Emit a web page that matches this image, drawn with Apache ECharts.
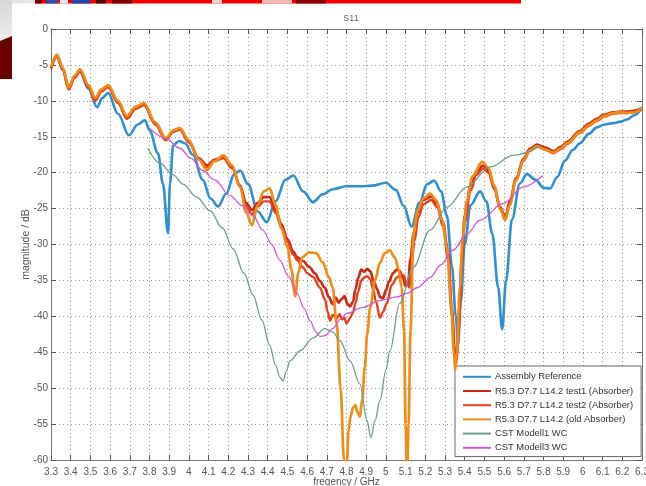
<!DOCTYPE html>
<html>
<head>
<meta charset="utf-8">
<script src="https://cdn.jsdelivr.net/npm/echarts@6/dist/echarts.min.js"></script>
<style>
  html, body { margin: 0; padding: 0; background: #fff; }
  #chart { width: 646px; height: 486px; }
</style>
</head>
<body>
<div id="chart"></div>
<script>
// S11 magnitude (dB) versus frequency (GHz), pairs of [frequency, magnitude]
const assemblyReference = [
  [3.30,-5.4],[3.33,-3.6],[3.36,-5.5],[3.39,-8.1],[3.42,-6.7],[3.447,-5.9],[3.49,-8.3],[3.534,-10.9],
  [3.56,-9.6],[3.59,-8.9],[3.64,-11.8],[3.696,-14.8],[3.74,-13.3],[3.777,-12.7],[3.80,-14.1],[3.843,-17.3],
  [3.868,-21.5],[3.894,-28.4],[3.904,-21.5],[3.92,-16.2],[3.95,-15.6],[3.98,-15.9],[4.02,-17.5],[4.07,-21.0],
  [4.11,-23.6],[4.148,-24.7],[4.19,-22.9],[4.23,-20.2],[4.26,-19.7],[4.30,-21.6],[4.35,-25.4],[4.395,-26.9],
  [4.44,-24.0],[4.49,-21.0],[4.53,-20.4],[4.58,-22.6],[4.63,-24.1],[4.68,-23.0],[4.73,-22.3],[4.80,-21.9],
  [4.87,-21.9],[4.93,-21.8],[5.00,-21.4],[5.05,-22.4],[5.09,-24.6],[5.13,-27.5],[5.17,-24.2],[5.21,-21.6],
  [5.245,-21.1],[5.28,-22.6],[5.31,-26.0],[5.335,-33.0],[5.355,-40.0],[5.366,-44.0],[5.38,-38.0],[5.40,-30.0],
  [5.43,-24.5],[5.478,-22.6],[5.51,-24.0],[5.54,-28.5],[5.57,-36.0],[5.59,-41.8],[5.61,-35.0],[5.64,-26.5],
  [5.68,-21.5],[5.716,-20.2],[5.76,-21.0],[5.80,-22.1],[5.833,-22.2],[5.87,-20.6],[5.909,-18.3],[5.95,-16.8],
  [5.985,-15.9],[6.03,-14.6],[6.07,-13.7],[6.11,-13.3],[6.153,-13.1],[6.19,-12.9],[6.224,-12.6],[6.26,-12.0],
  [6.30,-11.0]
];

const test1Absorber = [
  [3.30,-5.5],[3.33,-3.8],[3.36,-5.6],[3.39,-8.3],[3.42,-6.7],[3.447,-5.8],[3.49,-8.0],[3.525,-9.9],
  [3.555,-8.6],[3.59,-8.0],[3.64,-10.2],[3.686,-12.4],[3.73,-11.0],[3.772,-10.5],[3.83,-13.2],[3.883,-15.4],
  [3.92,-14.2],[3.954,-13.9],[4.00,-15.7],[4.05,-18.0],[4.092,-19.0],[4.13,-18.2],[4.175,-17.8],[4.22,-19.2],
  [4.26,-21.8],[4.29,-24.2],[4.32,-25.2],[4.35,-24.2],[4.38,-23.4],[4.41,-23.4],[4.44,-25.2],[4.47,-27.2],
  [4.50,-29.3],[4.53,-31.0],[4.55,-31.8],[4.58,-32.3],[4.61,-33.1],[4.64,-34.0],[4.665,-35.1],[4.69,-36.0],
  [4.71,-37.3],[4.73,-38.3],[4.745,-37.4],[4.76,-38.1],[4.775,-37.6],[4.79,-37.2],[4.805,-38.3],[4.818,-38.6],
  [4.833,-38.0],[4.845,-36.3],[4.86,-34.6],[4.875,-33.5],[4.89,-33.8],[4.905,-33.4],[4.92,-33.7],[4.94,-35.2],
  [4.955,-36.2],[4.97,-37.3],[4.985,-37.5],[5.00,-36.4],[5.015,-35.2],[5.036,-34.0],[5.055,-33.5],[5.07,-33.7],
  [5.085,-34.6],[5.10,-35.8],[5.112,-35.5],[5.125,-32.0],[5.14,-28.5],[5.16,-25.5],[5.19,-23.8],[5.23,-23.3],
  [5.26,-24.3],[5.29,-27.0],[5.315,-31.0],[5.335,-39.0],[5.35,-45.0],[5.358,-45.5],[5.37,-41.0],[5.385,-32.0],
  [5.40,-26.0],[5.43,-21.8],[5.46,-19.8],[5.493,-19.0],[5.52,-19.7],[5.55,-22.0],[5.58,-24.8],[5.605,-26.2],
  [5.63,-24.0],[5.66,-20.8],[5.70,-18.0],[5.73,-16.7],[5.767,-16.1],[5.81,-16.5],[5.85,-17.0],[5.89,-16.4],
  [5.92,-15.7],[5.985,-14.2],[6.03,-13.2],[6.07,-12.5],[6.11,-11.9],[6.153,-11.6],[6.19,-11.5],[6.224,-11.5],
  [6.26,-11.4],[6.30,-11.0]
];

const test2Absorber = [
  [3.30,-5.5],[3.33,-3.8],[3.36,-5.7],[3.39,-8.4],[3.42,-6.8],[3.447,-5.9],[3.49,-8.1],[3.525,-10.0],
  [3.555,-8.7],[3.59,-8.1],[3.64,-10.3],[3.686,-12.5],[3.73,-11.1],[3.772,-10.6],[3.83,-13.3],[3.883,-15.5],
  [3.92,-14.3],[3.954,-14.0],[4.00,-15.8],[4.05,-18.1],[4.092,-19.2],[4.13,-18.4],[4.175,-18.0],[4.22,-19.4],
  [4.26,-22.0],[4.29,-24.6],[4.32,-25.8],[4.35,-24.7],[4.38,-24.0],[4.41,-24.0],[4.44,-25.6],[4.47,-27.6],
  [4.50,-29.6],[4.53,-31.4],[4.55,-32.2],[4.58,-33.2],[4.60,-34.0],[4.63,-34.5],[4.665,-36.0],[4.69,-37.6],
  [4.705,-39.4],[4.716,-40.6],[4.73,-39.8],[4.75,-40.3],[4.765,-39.7],[4.777,-40.4],[4.79,-40.2],[4.80,-41.0],
  [4.81,-40.6],[4.818,-40.2],[4.833,-39.5],[4.845,-38.2],[4.86,-36.5],[4.875,-35.0],[4.89,-34.6],[4.905,-34.4],
  [4.92,-34.8],[4.935,-36.2],[4.95,-38.0],[4.97,-40.2],[4.985,-39.4],[5.005,-38.2],[5.03,-35.6],[5.056,-34.6],
  [5.075,-34.2],[5.09,-34.3],[5.105,-35.3],[5.12,-36.0],[5.13,-33.0],[5.145,-29.5],[5.165,-26.2],[5.19,-24.4],
  [5.23,-23.8],[5.26,-24.8],[5.29,-27.5],[5.315,-32.0],[5.335,-40.0],[5.35,-46.0],[5.358,-46.5],[5.37,-42.0],
  [5.385,-33.0],[5.40,-27.0],[5.43,-22.5],[5.46,-20.3],[5.493,-19.4],[5.52,-20.0],[5.55,-22.3],[5.58,-25.1],
  [5.605,-26.5],[5.63,-24.3],[5.66,-21.1],[5.70,-18.3],[5.73,-17.0],[5.767,-16.4],[5.81,-16.8],[5.85,-17.3],
  [5.89,-16.7],[5.92,-16.0],[5.985,-14.5],[6.03,-13.5],[6.07,-12.8],[6.11,-12.2],[6.153,-11.8],[6.19,-11.7],
  [6.224,-11.7],[6.26,-11.6],[6.30,-11.1]
];

const oldAbsorber = [
  [3.30,-5.3],[3.33,-3.6],[3.36,-5.4],[3.39,-8.1],[3.42,-6.5],[3.447,-5.6],[3.49,-7.8],[3.525,-9.6],
  [3.555,-8.4],[3.59,-7.8],[3.64,-10.0],[3.686,-12.1],[3.73,-10.8],[3.772,-10.3],[3.83,-13.0],[3.883,-15.2],
  [3.92,-14.1],[3.954,-13.8],[4.00,-15.5],[4.05,-18.2],[4.092,-19.6],[4.13,-18.4],[4.175,-17.6],[4.22,-19.0],
  [4.26,-22.0],[4.29,-25.5],[4.32,-27.3],[4.35,-24.5],[4.38,-22.6],[4.41,-22.2],[4.44,-24.5],[4.47,-27.8],
  [4.50,-30.3],[4.52,-33.5],[4.54,-37.2],[4.555,-34.0],[4.575,-31.8],[4.61,-31.1],[4.645,-31.2],[4.68,-32.5],
  [4.71,-34.5],[4.73,-36.0],[4.75,-41.0],[4.77,-50.0],[4.787,-60.0],[4.795,-63.0],[4.803,-60.0],[4.81,-56.0],
  [4.82,-54.0],[4.833,-52.7],[4.845,-52.4],[4.855,-53.3],[4.868,-54.0],[4.88,-51.5],[4.893,-47.0],[4.905,-42.5],
  [4.92,-38.8],[4.945,-35.0],[4.97,-32.5],[4.995,-31.2],[5.02,-30.8],[5.045,-31.8],[5.065,-33.5],[5.08,-36.0],
  [5.092,-42.0],[5.10,-55.0],[5.107,-63.0],[5.115,-55.0],[5.125,-42.0],[5.14,-28.5],[5.16,-25.3],[5.19,-23.6],
  [5.224,-22.9],[5.255,-23.8],[5.285,-26.5],[5.31,-30.5],[5.33,-38.0],[5.345,-45.0],[5.352,-47.5],[5.36,-45.0],
  [5.375,-36.0],[5.39,-29.0],[5.41,-24.0],[5.44,-20.5],[5.488,-18.5],[5.52,-19.3],[5.55,-21.8],[5.58,-25.0],
  [5.605,-26.6],[5.63,-24.5],[5.66,-21.0],[5.70,-18.2],[5.73,-16.9],[5.767,-16.3],[5.81,-16.8],[5.85,-17.2],
  [5.89,-16.6],[5.92,-15.9],[5.985,-14.4],[6.03,-13.4],[6.07,-12.7],[6.11,-12.1],[6.153,-11.7],[6.19,-11.6],
  [6.224,-11.7],[6.26,-11.6],[6.30,-11.0]
];

const cstModell1 = [
  [3.792,-16.6],[3.85,-18.6],[3.92,-20.3],[3.97,-21.6],[4.04,-23.4],[4.107,-25.3],[4.17,-27.7],[4.224,-30.6],
  [4.28,-34.0],[4.325,-37.0],[4.37,-40.5],[4.41,-44.0],[4.44,-46.8],[4.462,-48.5],[4.478,-49.0],[4.495,-47.6],
  [4.513,-46.2],[4.564,-44.8],[4.63,-43.0],[4.69,-41.7],[4.73,-42.2],[4.767,-43.4],[4.818,-46.2],[4.868,-49.4],
  [4.904,-54.5],[4.924,-56.9],[4.945,-54.5],[4.97,-51.7],[5.00,-47.5],[5.02,-44.8],[5.07,-38.2],[5.138,-33.2],
  [5.224,-28.0],[5.31,-24.8],[5.41,-22.0],[5.53,-19.2],[5.645,-17.6],[5.782,-16.3]
];

const cstModell3 = [
  [3.80,-13.8],[3.88,-15.2],[3.955,-16.6],[4.01,-18.0],[4.07,-19.7],[4.13,-21.0],[4.209,-23.2],[4.27,-24.6],
  [4.325,-26.0],[4.376,-28.0],[4.42,-30.0],[4.462,-32.2],[4.505,-34.4],[4.549,-36.8],[4.585,-38.9],[4.615,-40.6],
  [4.645,-42.2],[4.665,-42.8],[4.69,-42.7],[4.73,-41.7],[4.77,-40.4],[4.80,-39.6],[4.88,-38.8],[4.97,-37.8],
  [5.056,-37.3],[5.107,-36.8],[5.16,-36.0],[5.224,-34.6],[5.28,-32.8],[5.34,-30.8],[5.41,-28.6],[5.478,-26.6],
  [5.594,-24.3],[5.696,-22.0],[5.797,-20.4]
];

const seriesNames = [
  'Assembly Reference',
  'R5.3 D7.7 L14.2 test1 (Absorber)',
  'R5.3 D7.7 L14.2 test2 (Absorber)',
  'R5.3 D7.7 L14.2 (old Absorber)',
  'CST Modell1 WC',
  'CST Modell3 WC'
];
const seriesData = [assemblyReference, test1Absorber, test2Absorber, oldAbsorber, cstModell1, cstModell3];
const seriesColors = ['#2f8fd0', '#cc2a16', '#e4401e', '#f08c18', '#6c9f8b', '#d257d8'];
const seriesWidths = [2.6, 2.7, 2.4, 2.7, 1.3, 1.3];

const tickFont = { fontFamily: 'Liberation Sans', fontSize: 10, color: '#555' };
const fmt = v => String(parseFloat(Number(v).toFixed(1)));

const chart = echarts.init(document.getElementById('chart'), null, { renderer: 'canvas' });

chart.setOption({
  backgroundColor: '#ffffff',
  animation: false,
  title: {
    text: 'S11',
    left: 346,
    top: 9,
    textAlign: 'center',
    textStyle: { fontFamily: 'Liberation Sans', fontSize: 9, fontWeight: 'normal', color: '#666' }
  },
  graphic: [
    // slide decoration around the figure
    { type: 'rect', shape: { x: 0, y: 0, width: 12, height: 42 },
      style: { fill: new echarts.graphic.LinearGradient(0, 0, 1, 1, [
        { offset: 0, color: '#d6d6d6' }, { offset: 1, color: '#f0f0f0' }]) }, z: 0 },
    { type: 'rect', shape: { x: 12, y: 0, width: 23, height: 3.5 }, style: { fill: '#e6e6e6' }, z: 0 },
    { type: 'polygon', shape: { points: [[0, 41], [12, 36], [12, 79], [0, 79]] }, style: { fill: '#6a0000' }, z: 0 },
    { type: 'rect', shape: { x: 35, y: 0, width: 486, height: 3.5 }, style: { fill: '#f20000' }, z: 0 },
    { type: 'rect', shape: { x: 35, y: 0, width: 7, height: 3.5 }, style: { fill: '#7a0000' }, z: 0 },
    { type: 'rect', shape: { x: 46, y: 0, width: 12, height: 3.5 }, style: { fill: '#2a4fb0' }, z: 0 },
    { type: 'rect', shape: { x: 60, y: 0, width: 8, height: 3.5 }, style: { fill: '#e8e8f0' }, z: 0 },
    { type: 'rect', shape: { x: 72, y: 0, width: 18, height: 3.5 }, style: { fill: '#2244a8' }, z: 0 },
    { type: 'rect', shape: { x: 96, y: 0, width: 10, height: 3.5 }, style: { fill: '#4a0a0a' }, z: 0 },
    { type: 'rect', shape: { x: 112, y: 0, width: 20, height: 3.5 }, style: { fill: '#7a0000' }, z: 0 },
    { type: 'rect', shape: { x: 212, y: 0, width: 10, height: 3.5 }, style: { fill: '#f6d0d0' }, z: 0 },
    { type: 'rect', shape: { x: 262, y: 0, width: 30, height: 3.5 }, style: { fill: '#f3b8b8' }, z: 0 },
    { type: 'rect', shape: { x: 296, y: 0, width: 30, height: 3.5 }, style: { fill: '#8a0000' }, z: 0 }
  ],
  grid: { left: 51, right: 4, top: 29, bottom: 26, show: false, containLabel: false, outerBoundsMode: 'none' },
  legend: {
    orient: 'vertical',
    left: 455,
    top: 366,
    itemWidth: 28,
    itemHeight: 12,
    itemGap: 4.6,
    padding: [6, 8, 4, 7],
    backgroundColor: '#ffffff',
    borderColor: '#666',
    borderWidth: 1,
    itemStyle: { opacity: 0 },
    textStyle: { fontFamily: 'Liberation Sans', fontSize: 9.4, color: '#333', padding: [0, 0, 0, -1] },
    data: seriesNames
  },
  xAxis: [
    {
      type: 'value', min: 3.3, max: 6.3, interval: 0.1, position: 'bottom',
      name: 'freqency / GHz', nameLocation: 'middle', nameGap: 17, nameMoveOverlap: false,
      nameTextStyle: { fontFamily: 'Liberation Sans', fontSize: 10, color: '#555' },
      axisLine: { show: true, onZero: false, lineStyle: { color: '#777', width: 1 } },
      axisTick: { show: true, inside: true, length: 5, lineStyle: { color: '#555' } },
      axisLabel: Object.assign({ margin: 7, formatter: fmt, showMaxLabel: true, hideOverlap: false }, tickFont),
      splitLine: { show: true, lineStyle: { type: [1, 3], color: '#9a9a9a', width: 1 } }
    },
    {
      type: 'value', min: 3.3, max: 6.3, interval: 0.1, position: 'top',
      axisLine: { show: true, onZero: false, lineStyle: { color: '#777', width: 1 } },
      axisTick: { show: true, inside: true, length: 5, lineStyle: { color: '#555' } },
      axisLabel: { show: false },
      splitLine: { show: false }
    }
  ],
  yAxis: [
    {
      type: 'value', min: -60, max: 0, interval: 5, position: 'left',
      name: 'magnitude / dB', nameLocation: 'middle', nameGap: 19, nameMoveOverlap: false,
      nameTextStyle: { fontFamily: 'Liberation Sans', fontSize: 10.5, color: '#555' },
      axisLine: { show: true, onZero: false, lineStyle: { color: '#777', width: 1 } },
      axisTick: { show: true, inside: true, length: 5, lineStyle: { color: '#555' } },
      axisLabel: Object.assign({ margin: 3 }, tickFont),
      splitLine: { show: true, lineStyle: { type: [1, 3], color: '#9a9a9a', width: 1 } }
    },
    {
      type: 'value', min: -60, max: 0, interval: 5, position: 'right',
      axisLine: { show: true, onZero: false, lineStyle: { color: '#777', width: 1 } },
      axisTick: { show: true, inside: true, length: 5, lineStyle: { color: '#555' } },
      axisLabel: { show: false },
      splitLine: { show: false }
    }
  ],
  series: seriesNames.map((name, i) => ({
    name: name,
    type: 'line',
    data: seriesData[i],
    xAxisIndex: 0,
    yAxisIndex: 0,
    symbol: 'none',
    showSymbol: false,
    smooth: 0.35,
    smoothMonotone: 'x',
    clip: true,
    color: seriesColors[i],
    lineStyle: { color: seriesColors[i], width: seriesWidths[i] },
    z: 2 + i
  }))
});
</script>
</body>
</html>
